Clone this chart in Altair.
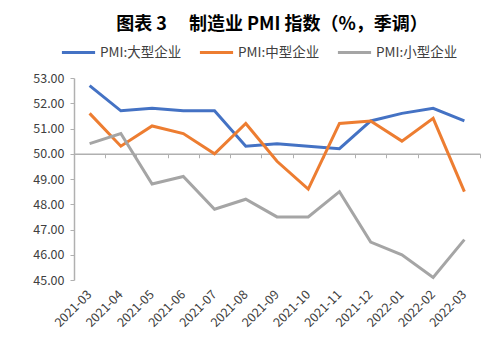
import altair as alt
import pandas as pd

months = ["2021-03", "2021-04", "2021-05", "2021-06", "2021-07", "2021-08", "2021-09",
          "2021-10", "2021-11", "2021-12", "2022-01", "2022-02", "2022-03"]
series = ["PMI:大型企业", "PMI:中型企业", "PMI:小型企业"]
large = [52.7, 51.7, 51.8, 51.7, 51.7, 50.3, 50.4, 50.3, 50.2, 51.3, 51.6, 51.8, 51.3]
medium = [51.6, 50.3, 51.1, 50.8, 50.0, 51.2, 49.7, 48.6, 51.2, 51.3, 50.5, 51.4, 48.5]
small = [50.4, 50.8, 48.8, 49.1, 47.8, 48.2, 47.5, 47.5, 48.5, 46.5, 46.0, 45.1, 46.6]
colors = ["#4472C4", "#ED7D31", "#A5A5A5"]
y_ticks = [45, 46, 47, 48, 49, 50, 51, 52, 53]

rows = []
for s, vals in zip(series, [large, medium, small]):
    for m, v in zip(months, vals):
        rows.append({"month": m, "series": s, "value": v})
df = pd.DataFrame(rows)

W, H = 406, 202
FONT = "Noto Sans CJK SC"

xscale = alt.Scale(domain=months, paddingInner=0, paddingOuter=0)
yscale = alt.Scale(domain=[45, 53], nice=False, zero=False)

lines = alt.Chart(df).mark_line(strokeWidth=3).encode(
    x=alt.X("month:N", scale=xscale, sort=months,
            axis=alt.Axis(title=None, orient="bottom", domain=False, ticks=False, labelAngle=-45,
                          labelAlign="right", labelBaseline="middle", labelPadding=12,
                          labelFontSize=12.5, labelColor="#404040", labelFont=FONT,
                          labelOverlap=False)),
    y=alt.Y("value:Q", scale=yscale,
            axis=alt.Axis(title=None, values=y_ticks, format=".2f", grid=False,
                          domainColor="#B0B0B0", domainWidth=1.5, tickColor="#B0B0B0",
                          tickSize=4, labelFontSize=12.5, labelColor="#404040",
                          labelFont=FONT, labelPadding=6, labelOverlap=False)),
    color=alt.Color("series:N", sort=series,
                    scale=alt.Scale(domain=series, range=colors),
                    legend=alt.Legend(title=None, orient="none", direction="horizontal",
                                      legendX=-14, legendY=-44, symbolType="stroke",
                                      symbolSize=1100, symbolStrokeWidth=3,
                                      labelFontSize=13.5, labelColor="#404040",
                                      labelFont=FONT, columnPadding=11, labelOffset=3)),
)

axis50 = alt.Chart(df).mark_line(opacity=0).encode(
    x=alt.X("month:N", scale=xscale, sort=months,
            axis=alt.Axis(title=None, orient="bottom", offset=-(H * 5 / 8),
                          labels=False, domainColor="#B0B0B0", domainWidth=1.5,
                          tickColor="#B0B0B0", tickSize=4, tickBand="extent")),
    y=alt.Y("value:Q", scale=yscale, axis=None),
    detail="series:N",
)

chart = alt.layer(lines, axis50).resolve_axis(x="independent", y="independent").properties(
    width=W, height=H,
    padding={"top": 8, "left": 24, "right": 5, "bottom": 5},
    title=alt.Title("图表 3\u3000 制造业 PMI 指数（%，季调）", font=FONT, fontSize=18,
                    fontWeight="bold", color="#000000", anchor="middle", offset=0,
                    dx=-5),
).configure_view(stroke=None)

chart.save("out.html", embed_options={"renderer": "svg", "actions": False})
